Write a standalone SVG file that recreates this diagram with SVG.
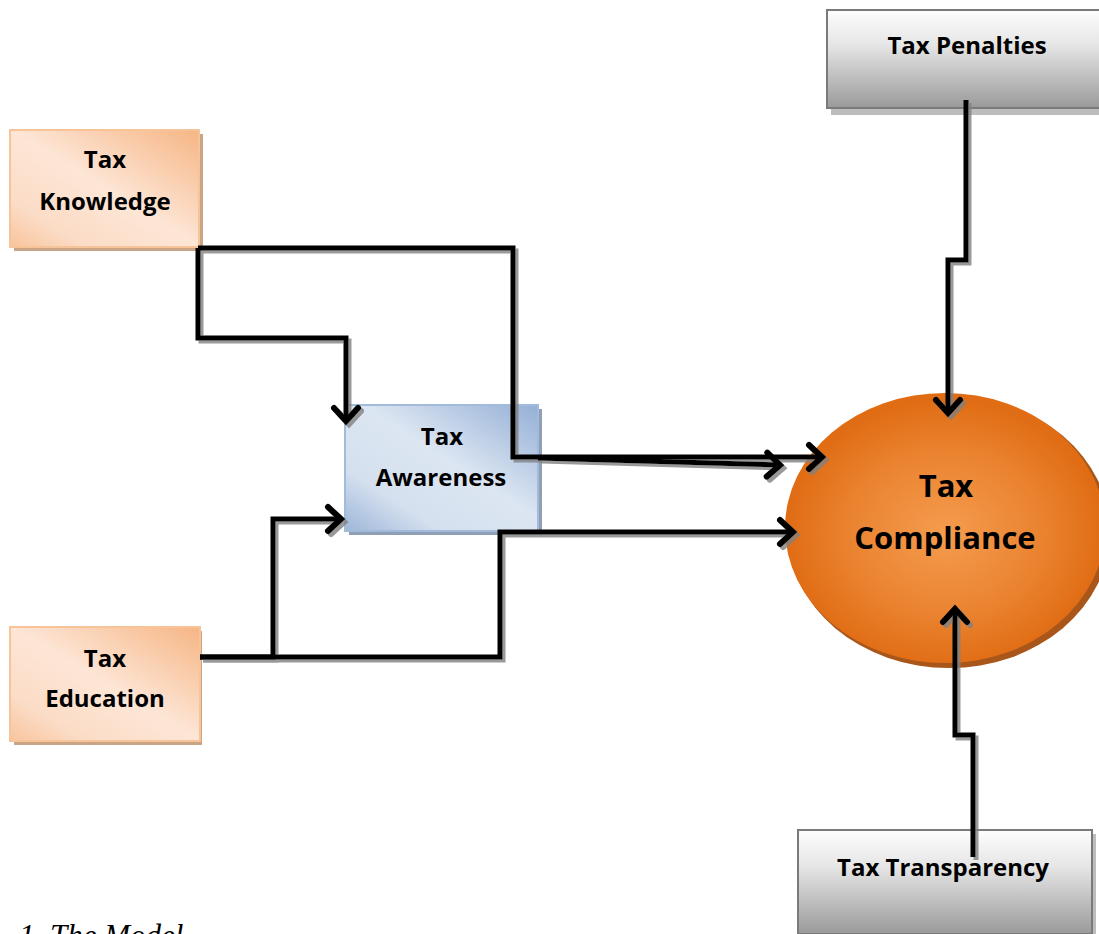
<svg xmlns="http://www.w3.org/2000/svg" width="1099" height="934" viewBox="0 0 1099 934">
<defs>
<style>
.lbl{font-family:"Open Sans","Liberation Sans",sans-serif;font-weight:bold;fill:#000;text-anchor:middle}
.s{font-size:24px}
.b{font-size:31px}
.con{fill:none;stroke:#000;stroke-width:5;stroke-linejoin:miter;marker-end:url(#arr)}
</style>
<linearGradient id="gOr" x1="1" y1="0" x2="0" y2="1">
<stop offset="0" stop-color="#f6b584"/>
<stop offset="0.5" stop-color="#fde6d6"/>
<stop offset="0.8" stop-color="#fbdcc6"/>
<stop offset="1" stop-color="#f8c49c"/>
</linearGradient>
<linearGradient id="gBl" x1="1" y1="0" x2="0" y2="1">
<stop offset="0" stop-color="#94afd6"/>
<stop offset="0.45" stop-color="#dce6f2"/>
<stop offset="0.75" stop-color="#d5e0ef"/>
<stop offset="1" stop-color="#9db6d9"/>
</linearGradient>
<linearGradient id="gGr" x1="0" y1="0" x2="0" y2="1">
<stop offset="0" stop-color="#fdfdfd"/>
<stop offset="0.35" stop-color="#e6e6e6"/>
<stop offset="1" stop-color="#9a9a9a"/>
</linearGradient>
<radialGradient id="gEl" cx="0.5" cy="0.52" r="0.5">
<stop offset="0" stop-color="#f59c4e"/>
<stop offset="0.6" stop-color="#ea8330"/>
<stop offset="1" stop-color="#e06c14"/>
</radialGradient>
<marker id="arr" markerUnits="userSpaceOnUse" markerWidth="40" markerHeight="40" viewBox="-20 -20 40 40" refX="0" refY="0" orient="auto">
<path d="M-13,-12 L0,0 L-13,12" fill="none" stroke="#000" stroke-width="6" stroke-linecap="round" stroke-linejoin="miter"/>
</marker>
<filter id="sh" x="-10%" y="-10%" width="120%" height="120%">
<feDropShadow dx="3" dy="3" stdDeviation="0.6" flood-color="#808080" flood-opacity="0.8"/>
</filter>
</defs>
<rect width="1099" height="934" fill="#fff"/>

<g id="tax-penalties">
<rect x="831" y="14" width="270" height="101" fill="#bdbdbd"/>
<rect x="827" y="10" width="274" height="98" fill="url(#gGr)" stroke="#7a7a7a" stroke-width="2"/>
<text class="lbl s" x="967" y="54">Tax Penalties</text>
</g>

<g id="tax-transparency">
<rect x="802" y="834" width="294" height="104" fill="#bdbdbd"/>
<rect x="798" y="830" width="294" height="104" fill="url(#gGr)" stroke="#7a7a7a" stroke-width="2"/>
<text class="lbl s" x="943" y="876">Tax Transparency</text>
</g>

<g id="tax-knowledge">
<rect x="14" y="134" width="189" height="117" fill="#c9a585"/>
<rect x="10" y="130" width="189" height="117" fill="url(#gOr)" stroke="#f7c49a" stroke-width="2"/>
<text class="lbl s" x="105" y="168">Tax</text>
<text class="lbl s" x="105" y="210">Knowledge</text>
</g>

<g id="tax-education">
<rect x="14" y="631" width="188" height="114" fill="#c9a585"/>
<rect x="10" y="627" width="190" height="114" fill="url(#gOr)" stroke="#f7c49a" stroke-width="2"/>
<text class="lbl s" x="105" y="667">Tax</text>
<text class="lbl s" x="105" y="707">Education</text>
</g>

<g id="tax-awareness">
<rect x="349" y="409" width="193" height="126" fill="#8f9fb5"/>
<rect x="345" y="405" width="193" height="126" fill="url(#gBl)" stroke="#a3bbdb" stroke-width="2"/>
<text class="lbl s" x="442" y="445">Tax</text>
<text class="lbl s" x="441" y="486">Awareness</text>
</g>

<g id="tax-compliance">
<ellipse cx="949" cy="532" rx="161" ry="136" fill="#a9561a"/>
<ellipse cx="945" cy="528" rx="160" ry="135" fill="url(#gEl)"/>
<text class="lbl b" x="946" y="497">Tax</text>
<text class="lbl b" x="945" y="549">Compliance</text>
</g>

<g id="connectors" filter="url(#sh)">
<path class="con" d="M198,248 V338 H346 V421"/>
<path class="con" d="M198,248 H513 V457 H822"/>
<path class="con" d="M538,458 L780,465"/>
<path class="con" d="M200,657 H273 V519 H341"/>
<path class="con" d="M200,657 H500 V532 H793"/>
<path class="con" d="M966,100 V260 H948 V413"/>
<path class="con" d="M973,857 V735 H955 V609"/>
</g>

<text x="19" y="946" font-family="Liberation Serif, serif" font-style="italic" font-size="31" fill="#000">1. The Model</text>
</svg>
